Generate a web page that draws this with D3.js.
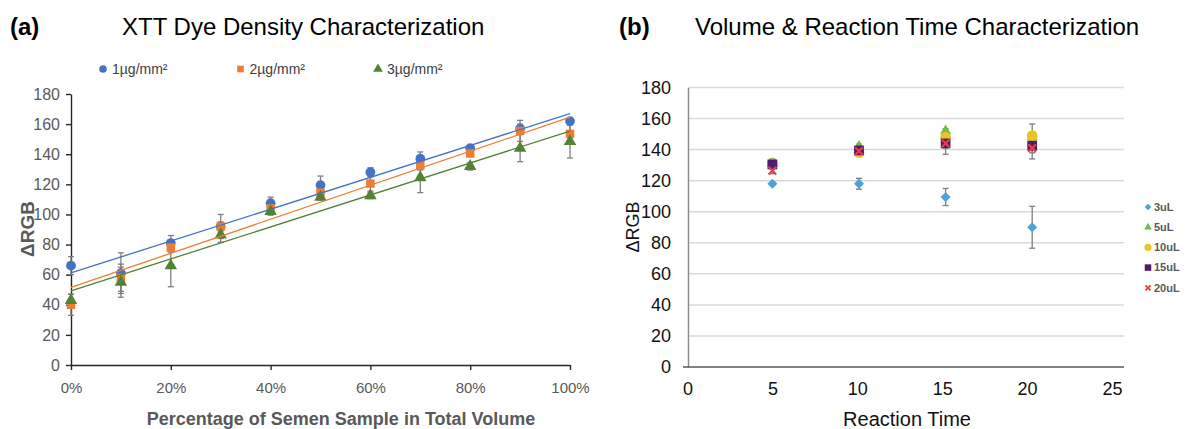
<!DOCTYPE html>
<html>
<head>
<meta charset="utf-8">
<script src="https://cdn.jsdelivr.net/npm/d3@7"></script>
<style>
  body { margin: 0; background: #fff; }
  text { font-family: "Liberation Sans", Arial, sans-serif; }
</style>
</head>
<body>
<div id="chart"></div>
<script>
// ----- panel (a) data
const pctLevels = [0, 0.1, 0.2, 0.3, 0.4, 0.5, 0.6, 0.7, 0.8, 0.9, 1.0];
const pctTicks = [0, 0.2, 0.4, 0.6, 0.8, 1.0];
const rgbTicks = [0, 20, 40, 60, 80, 100, 120, 140, 160, 180];
const densityNames = ["1µg/mm²", "2µg/mm²", "3µg/mm²"];
const density1 = [66, 61, 81, 92, 107.5, 119.5, 128, 137, 144, 157, 162];
const density1Err = [6, 13.5, 5, 3, 4, 6, 3, 4.5, 1.5, 3, 1];
const density2 = [40, 58, 78, 92, 104, 114.5, 120.5, 132.5, 140.5, 155.5, 153.5];
const density2Err = [7, 9, 3, 8, 2, 4, 5, 3, 2, 7, 6];
const density3 = [43, 55, 66, 86.5, 102, 111.5, 112.5, 124.5, 132, 144, 148.5];
const density3Err = [4, 10, 14, 5, 2.5, 2, 2, 10, 2.5, 9, 11];

// ----- panel (b) data
const reactionTimes = [5, 10.1, 15.2, 20.3];
const timeTicks = [0, 5, 10, 15, 20, 25];
const volumeNames = ["3uL", "5uL", "10uL", "15uL", "20uL"];
const vol3 = [118, 118, 109.5, 90];
const vol3Err = [1, 3.5, 5.5, 13.5];
const vol5 = [131, 142, 152, 148];
const vol5Err = [2, 1.5, 1.5, 2];
const vol10 = [131, 138, 148, 149];
const vol10Err = [3, 1.5, 4, 7.5];
const vol15 = [130.5, 139.5, 144, 142.5];
const vol15Err = [3, 2, 7, 8.5];
const vol20 = [126.5, 139, 144, 141];
const vol20Err = [2, 2, 3, 3];

const width = 1187, height = 429;
const svg = d3.select("#chart")
    .append("svg")
    .attr("width", width)
    .attr("height", height);

const errColor = "#7f7f7f";

function linearFit(xs, ys) {
    const mx = d3.mean(xs), my = d3.mean(ys);
    const sxy = d3.sum(xs, (x, i) => (x - mx) * (ys[i] - my));
    const sxx = d3.sum(xs, x => (x - mx) * (x - mx));
    const slope = sxy / sxx;
    return {slope: slope, intercept: my - slope * mx};
}

function errorBars(g, xs, ys, es, x, y, cap) {
    xs.forEach(function(xv, i) {
        const cx = x(xv);
        const y0 = y(ys[i] - es[i]), y1 = y(ys[i] + es[i]);
        g.append("line").attr("x1", cx).attr("x2", cx).attr("y1", y0).attr("y2", y1)
            .attr("stroke", errColor).attr("stroke-width", 1.3);
        [y0, y1].forEach(function(yy) {
            g.append("line").attr("x1", cx - cap).attr("x2", cx + cap).attr("y1", yy).attr("y2", yy)
                .attr("stroke", errColor).attr("stroke-width", 1.3);
        });
    });
}

// ================= panel (a)
const xA = d3.scaleLinear().domain([0, 1]).range([71, 570]);
const yA = d3.scaleLinear().domain([0, 180]).range([365, 94]);

svg.append("text").attr("x", 10).attr("y", 35)
    .style("font-size", "24px").style("font-weight", "bold").text("(a)");
svg.append("text").attr("x", 122).attr("y", 35)
    .style("font-size", "24px").text("XTT Dye Density Characterization");

const axA = svg.append("g").attr("transform", `translate(${xA(0)},0)`)
    .call(d3.axisLeft(yA).tickValues(rgbTicks).tickSize(5).tickSizeOuter(0).tickPadding(6));
const axB = svg.append("g").attr("transform", `translate(0,${yA(0)})`)
    .call(d3.axisBottom(xA).tickValues(pctTicks).tickFormat(d3.format(".0%"))
        .tickSize(5).tickSizeOuter(0).tickPadding(12));
[axA, axB].forEach(function(ax) {
    ax.select(".domain").attr("stroke", "#262626").attr("stroke-width", 1.4);
    ax.selectAll(".tick line").attr("stroke", "#262626").attr("stroke-width", 1.4);
    ax.selectAll(".tick text").attr("fill", "#595959")
        .style("font-family", "'Liberation Sans', Arial, sans-serif");
});
axA.selectAll(".tick text").style("font-size", "16px");
axB.selectAll(".tick text").style("font-size", "15px");

svg.append("text")
    .attr("transform", "translate(27,229) rotate(-90)")
    .attr("text-anchor", "middle").attr("dy", "0.35em")
    .style("font-size", "19px").style("font-weight", "bold").attr("fill", "#595959")
    .text("ΔRGB");
svg.append("text").attr("x", 341).attr("y", 425).attr("text-anchor", "middle")
    .style("font-size", "18px").style("font-weight", "bold").attr("fill", "#595959")
    .text("Percentage of Semen Sample in Total Volume");

const densitySeries = [
    {name: densityNames[0], values: density1, err: density1Err, color: "#4472C4", symbol: d3.symbolCircle, size: 75},
    {name: densityNames[1], values: density2, err: density2Err, color: "#ED7D31", symbol: d3.symbolSquare, size: 72},
    {name: densityNames[2], values: density3, err: density3Err, color: "#548235", symbol: d3.symbolTriangle, size: 68}
];

const gA = svg.append("g");
densitySeries.forEach(function(s) {
    errorBars(gA, pctLevels, s.values, s.err, xA, yA, 3);
});
densitySeries.forEach(function(s) {
    gA.selectAll(null).data(s.values).enter().append("path")
        .attr("d", d3.symbol().type(s.symbol).size(s.size))
        .attr("transform", (d, i) => `translate(${xA(pctLevels[i])},${yA(d)})`)
        .attr("fill", s.color);
});
densitySeries.forEach(function(s) {
    const fit = linearFit(pctLevels, s.values);
    gA.append("line")
        .attr("x1", xA(0)).attr("y1", yA(fit.intercept))
        .attr("x2", xA(1)).attr("y2", yA(fit.intercept + fit.slope))
        .attr("stroke", s.color).attr("stroke-width", 1.3);
});

// legend (a)
densitySeries.forEach(function(s, i) {
    const lx = 103 + i * 137.5;
    svg.append("path").attr("d", d3.symbol().type(s.symbol).size(s.size * 0.6))
        .attr("transform", `translate(${lx},69)`).attr("fill", s.color);
    svg.append("text").attr("x", lx + 9).attr("y", 74)
        .style("font-size", "14px").attr("fill", "#404040").text(s.name);
});

// ================= panel (b)
const xB = d3.scaleLinear().domain([0, 25]).range([687.5, 1112]);
const yB = d3.scaleLinear().domain([0, 180]).range([367, 87.5]);

svg.append("text").attr("x", 619).attr("y", 35)
    .style("font-size", "24px").style("font-weight", "bold").text("(b)");
svg.append("text").attr("x", 695).attr("y", 35)
    .style("font-size", "24px").text("Volume & Reaction Time Characterization");

// gridlines
svg.append("g").selectAll("line").data(rgbTicks.filter(d => d > 0)).enter().append("line")
    .attr("x1", 688).attr("x2", xB(25) + 12)
    .attr("y1", d => yB(d)).attr("y2", d => yB(d))
    .attr("stroke", "#d9d9d9").attr("stroke-width", 1.5);

const ayB = svg.append("g").attr("transform", "translate(688,0)")
    .call(d3.axisLeft(yB).tickValues(rgbTicks).tickSize(0).tickPadding(17));
ayB.select(".domain").attr("stroke", "#8c8c8c").attr("stroke-width", 1.5);
ayB.selectAll(".tick text").attr("fill", "#111").style("font-size", "18px")
    .style("font-family", "'Liberation Sans', Arial, sans-serif");

const axB2 = svg.append("g").attr("transform", `translate(0,${yB(0)})`)
    .call(d3.axisBottom(xB).tickValues(timeTicks).tickSize(0).tickPadding(15));
axB2.select(".domain").remove();
axB2.selectAll(".tick text").attr("fill", "#111").style("font-size", "18px")
    .style("font-family", "'Liberation Sans', Arial, sans-serif");
svg.append("line").attr("x1", 683).attr("x2", xB(25) + 12)
    .attr("y1", yB(0)).attr("y2", yB(0))
    .attr("stroke", "#595959").attr("stroke-width", 1.5);

svg.append("text")
    .attr("transform", "translate(633,227) rotate(-90)")
    .attr("text-anchor", "middle").attr("dy", "0.35em")
    .style("font-size", "18px").attr("fill", "#111").text("ΔRGB");
svg.append("text").attr("x", 907).attr("y", 426).attr("text-anchor", "middle")
    .style("font-size", "20px").attr("fill", "#111").text("Reaction Time");

// diamond drawn as a square turned by 45 degrees
const volumeSeries = [
    {name: volumeNames[0], values: vol3, err: vol3Err, color: "#4BA3D8", symbol: d3.symbolSquare, size: 50, rot: 45},
    {name: volumeNames[1], values: vol5, err: vol5Err, color: "#6DBE45", symbol: d3.symbolTriangle, size: 55, rot: 0},
    {name: volumeNames[2], values: vol10, err: vol10Err, color: "#EAC423", symbol: d3.symbolCircle, size: 90, rot: 0},
    {name: volumeNames[3], values: vol15, err: vol15Err, color: "#4E1B6E", symbol: d3.symbolSquare, size: 95, rot: 0},
    {name: volumeNames[4], values: vol20, err: vol20Err, color: "#F23C3C", symbol: d3.symbolX, size: 40, rot: 0, stroke: true}
];

const gB = svg.append("g");
volumeSeries.forEach(function(s) {
    errorBars(gB, reactionTimes, s.values, s.err, xB, yB, 3);
});
volumeSeries.forEach(function(s) {
    const pts = gB.selectAll(null).data(s.values).enter().append("path")
        .attr("d", d3.symbol().type(s.symbol).size(s.size))
        .attr("transform", (d, i) => `translate(${xB(reactionTimes[i])},${yB(d)}) rotate(${s.rot})`);
    if (s.stroke) pts.attr("fill", "none").attr("stroke", s.color).attr("stroke-width", 2.2);
    else pts.attr("fill", s.color);
});

// legend (b)
volumeSeries.forEach(function(s, i) {
    const ly = 207 + i * 20.2;
    const m = svg.append("path").attr("d", d3.symbol().type(s.symbol).size(s.size * 0.45))
        .attr("transform", `translate(1148,${ly}) rotate(${s.rot})`);
    if (s.stroke) m.attr("fill", "none").attr("stroke", s.color).attr("stroke-width", 1.8);
    else m.attr("fill", s.color);
    svg.append("text").attr("x", 1154).attr("y", ly).attr("dy", "0.35em")
        .style("font-size", "11px").style("font-weight", "bold").attr("fill", "#595959")
        .text(s.name);
});
</script>
</body>
</html>
